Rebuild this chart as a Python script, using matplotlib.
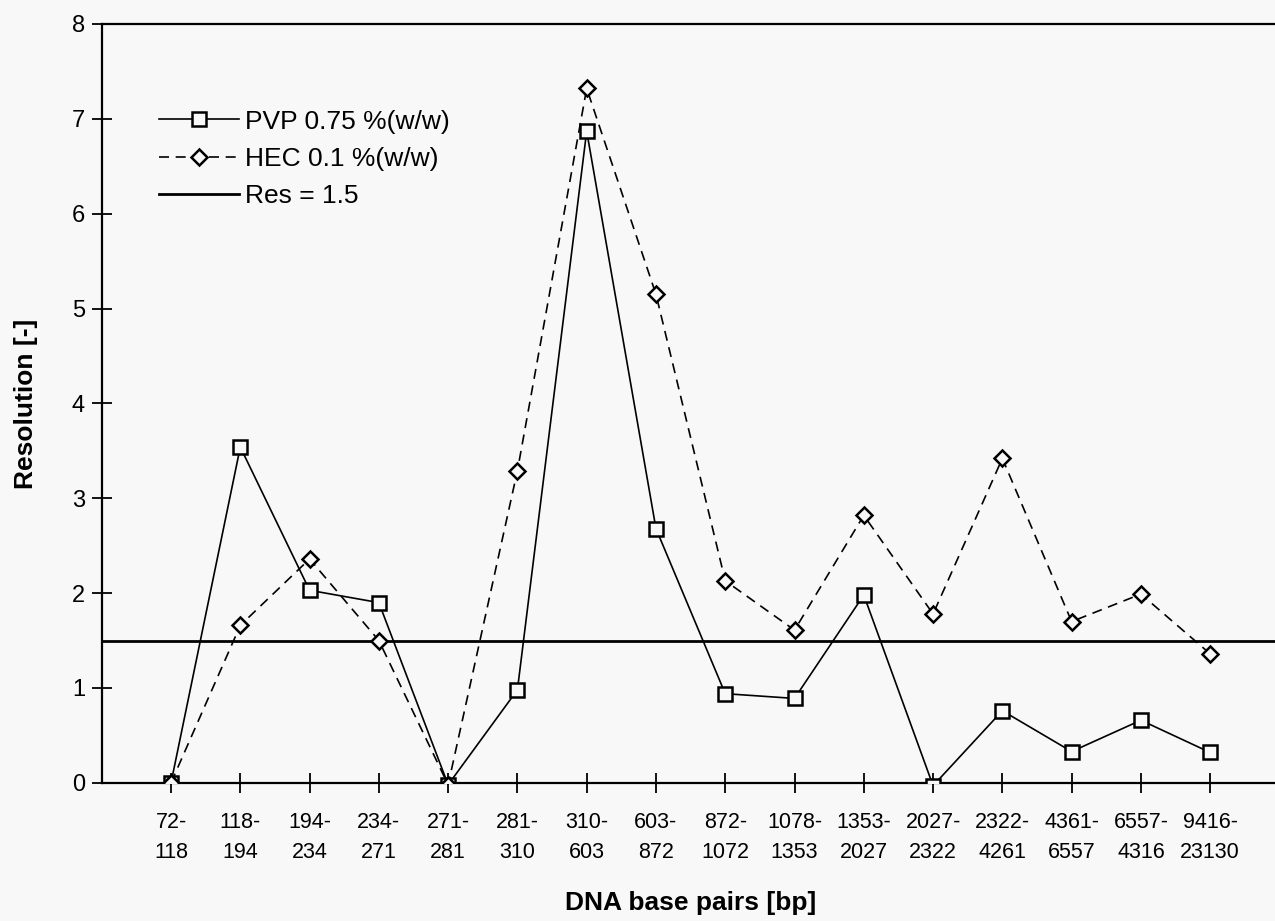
import numpy as np
import matplotlib
matplotlib.use("Agg")
import matplotlib.pyplot as plt

plt.rcParams['font.family'] = ['Liberation Sans', 'DejaVu Sans']

# DNA fragment pairs on the x axis
pairs = ["72-\n118", "118-\n194", "194-\n234", "234-\n271", "271-\n281",
         "281-\n310", "310-\n603", "603-\n872", "872-\n1072", "1078-\n1353",
         "1353-\n2027", "2027-\n2322", "2322-\n4261", "4361-\n6557",
         "6557-\n4316", "9416-\n23130"]

# resolution values
pvp = [0.0, 3.54, 2.03, 1.90, -0.02, 0.98, 6.87, 2.68, 0.94, 0.89,
       1.98, -0.03, 0.76, 0.33, 0.66, 0.32]
hec = [0.0, 1.66, 2.36, 1.50, -0.02, 3.29, 7.32, 5.15, 2.13, 1.61,
       2.82, 1.78, 3.42, 1.70, 1.99, 1.36]
res_limit = 1.5

bg = '#f8f8f8'
x = np.arange(1, len(pairs) + 1)

fig = plt.figure(figsize=(12.75, 9.21), dpi=100, facecolor=bg)
ax = fig.add_axes([0.0798, 0.150, 0.9237, 0.824], facecolor=bg)

ax.plot(x, pvp, '-', color='black', lw=1.2, marker='s', ms=10,
        mfc=bg, mec='black', mew=1.8, label="PVP 0.75 %(w/w)", zorder=3)
ax.plot(x, hec, color='black', lw=1.2, ls=(0, (6, 4)), marker='D', ms=8,
        mfc=bg, mec='black', mew=1.8, label="HEC 0.1 %(w/w)", zorder=3)
ax.axhline(res_limit, color='black', lw=2.0, label="Res = 1.5", zorder=2)

ax.set_xlim(0, 17)
ax.set_ylim(0, 8)
ax.set_xticks(x)
ax.set_xticklabels(pairs, fontsize=15.5, linespacing=1.55)
ax.set_yticks(range(0, 9))
ax.tick_params(axis='both', direction='inout', length=14, width=1.3, color='black')
ax.tick_params(axis='y', labelsize=17, pad=5)
ax.tick_params(axis='x', pad=14)

for side in ['left', 'bottom', 'top']:
    ax.spines[side].set_linewidth(1.6)
ax.spines['right'].set_visible(False)

ax.set_ylabel("Resolution [-]", fontsize=19, fontweight='bold', labelpad=24)
ax.set_xlabel("DNA base pairs [bp]", fontsize=19, fontweight='bold', labelpad=20)

ax.legend(loc='upper left', bbox_to_anchor=(0.049, 0.887), frameon=False,
          fontsize=19, handlelength=3.0, handletextpad=0.25, labelspacing=0.5,
          borderpad=0, borderaxespad=0)

fig.savefig("out.png", dpi=100, facecolor=bg)
